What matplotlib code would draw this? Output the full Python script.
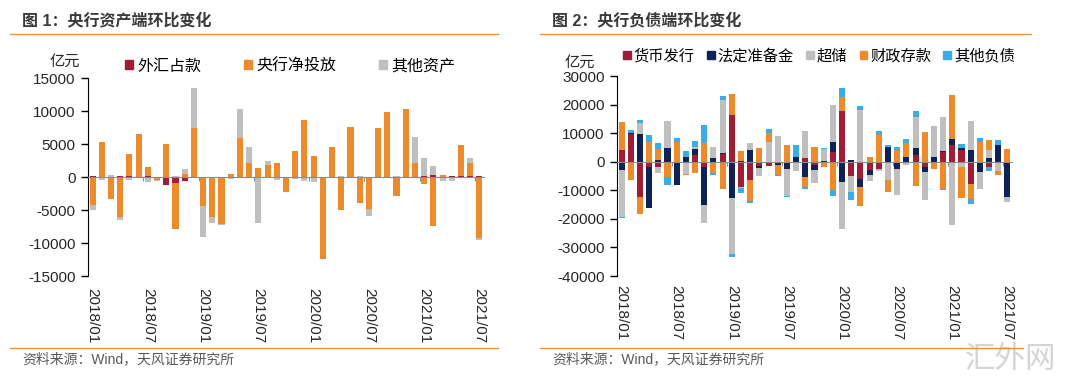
import numpy as np
import matplotlib
matplotlib.use('Agg')
import matplotlib.pyplot as plt
from matplotlib.patches import Patch
from matplotlib.transforms import blended_transform_factory

plt.rcParams['font.family'] = ['Liberation Sans', 'Noto Sans CJK SC']
plt.rcParams['axes.unicode_minus'] = False

###############################################################################
# data (亿元, month-on-month change), 2018/01 .. 2021/07

months = [f'{y}/{m:02d}' for y in range(2018, 2022) for m in range(1, 13)][:43]
tick_labels = ['2018/01', '2018/07', '2019/01', '2019/07',
               '2020/01', '2020/07', '2021/01', '2021/07']

# fig 1: assets
fx_assets = [150, 0, 0, 150, 200, 0, 150, 0, -1200, -900, -550, 0, 0, 0, 0,
             0, 0, 0, 0, 0, 0, 0, 0, 0, 0, 0, 0, 0, 0, 0, 0, 0, 0, 0, 0,
             -200, 100, 300, 0, 150, 150, 150, 150]
net_injection = [-4200, 5300, -3300, -6100, 3300, 6500, 1300, -400, 5000, -7000,
                 500, 7500, -4400, -6050, -7150, 500, 5850, 2100, 1400, 1750,
                 2100, -2250, 3900, 8600, 3200, -12400, 4550, -5050, 7550, -3950,
                 -4900, 7350, 9850, -2900, 10250, 2100, -1100, -7400, 350, 0,
                 4650, 1900, -9250]
other_assets = [-850, -450, 300, -400, -500, 0, -800, -200, 0, 200, 700, 5950,
                -4750, -900, -150, -300, 4500, 2500, -6950, 750, -400, 0, -350,
                -650, -750, 0, 0, 150, 0, 150, -950, 0, -150, 150, 0, 3900,
                2750, 1350, -550, -650, 0, 850, -300]

# fig 2: liabilities
currency = [4100, 9800, -12300, -1800, -2000, 0, 0, 0, 2500, -1800, 0, 2800,
            16500, -8800, -6500, -1400, -1500, 0, 0, 0, 1300, -1200, 0, 3300,
            17900, -4900, -6100, -2900, -2600, 0, 0, 0, 2500, -2000, 0, 3300,
            6000, 4100, -7800, 0, -2000, 0, 0]
required_res = [-2900, 200, 9800, -14300, 700, 4800, -8200, 1800, 2000, -13400,
                1300, 400, -12600, 400, 4200, -800, 0, -1000, -2600, 1700,
                -5500, -1800, 400, 3500, -7000, 500, -2900, -1800, 0, 5000,
                -2600, 1500, 2300, -1500, 1700, 600, 1800, 600, 4200, -3500,
                1300, 6000, -12500]
excess_res = [-16300, 0, 3800, 0, -1800, 9400, 0, -4300, 800, -6100, 4000,
              18300, -19800, -500, 2200, -2900, 6800, 9100, -9400, -3400, 9600,
              -4500, 4100, 12900, -16400, -5800, 18100, -2000, -800, -6400,
              -9000, -1200, 11000, -9900, 10900, 11700, -22100, -1800, 9900,
              -5900, 2900, -3200, -1700]
fiscal_dep = [9800, -6500, -5900, 6800, 3800, -5500, 6800, -200, -4100, 6700,
              -4100, -9600, 7200, 3200, -7300, 4700, 3200, -3500, 5900, 0,
              -3300, 5000, -2000, -9900, 4900, 0, -6400, 1500, 9700, -4100,
              4100, 5000, -8400, 10300, -2600, -9400, 15400, -10800, -5300,
              6800, 3500, -1500, 4500]
other_liab = [-400, 1000, 900, 2600, 2000, -2500, 1500, 1800, 2100, 6200, -600,
              1500, -900, -1500, -800, 0, 1500, -400, -200, 4200, -800, 0, 400,
              -2000, 3000, -2700, 1500, 0, 900, 900, 900, 1400, 1900, 0, 0,
              -600, 0, 1500, -1800, 1500, -1400, 1600, 0]

###############################################################################

W, H = 1076, 381
MAROON = '#A11D36'
ORANGE = '#EC8A2C'
GRAY = '#BFBFBF'
NAVY = '#0E2257'
BLUE = '#3AADE6'
LINE = '#E8953C'
TXT = '#262626'

fig = plt.figure(figsize=(W / 100, H / 100), dpi=100)


def px_axes(x0, x1, ytop, ybot):
    return fig.add_axes([x0 / W, 1 - ybot / H, (x1 - x0) / W, (ybot - ytop) / H])


def stacked(ax, series, colors, width=0.66):
    x = np.arange(len(months))
    pos = np.zeros(len(months))
    neg = np.zeros(len(months))
    for vals, c in zip(series, colors):
        v = np.asarray(vals, dtype=float)
        ax.bar(x, v, width, bottom=np.where(v >= 0, pos, neg), color=c,
               linewidth=0, zorder=2)
        pos += np.where(v > 0, v, 0)
        neg += np.where(v < 0, v, 0)


def style(ax, ylim, step, lab_off):
    ax.set_xlim(-0.5, len(months) - 0.5)
    ax.set_ylim(*ylim)
    ax.set_yticks(np.arange(ylim[0], ylim[1] + 1, step))
    ax.tick_params(axis='y', direction='out', length=5, width=1, color='black',
                   labelsize=11, labelcolor=TXT, pad=4)
    for s in ['top', 'right']:
        ax.spines[s].set_visible(False)
    ax.spines['left'].set_color('black')
    ax.spines['bottom'].set_position(('data', 0))
    ax.spines['bottom'].set_color('#8C8C8C')
    ax.spines['bottom'].set_zorder(3)
    ax.set_xticks(np.arange(5.5, len(months), 6))
    ax.tick_params(axis='x', direction='out', length=3, color='#8C8C8C',
                   labelbottom=False)
    tr = blended_transform_factory(ax.transData, ax.transAxes)
    for lab in tick_labels:
        ax.text(months.index(lab), lab_off, lab, transform=tr, rotation=270,
                ha='center', va='top', fontsize=11, color=TXT)


# ---- panel 1
ax1 = px_axes(88, 484, 78, 276)
stacked(ax1, [fx_assets, net_injection, other_assets], [MAROON, ORANGE, GRAY])
style(ax1, (-15000, 15000), 5000, -0.06)
fig.text(50 / W, 1 - 62 / H, '亿元', fontsize=11, color=TXT, va='center')
ax1.legend(handles=[Patch(color=c, label=l) for c, l in
                    zip([MAROON, ORANGE, GRAY], ['外汇占款', '央行净投放', '其他资产'])],
           loc='center left', bbox_to_anchor=(125 / W, 1 - 66 / H),
           bbox_transform=fig.transFigure, ncol=3, frameon=False, fontsize=11.5,
           handlelength=0.5, handleheight=0.5, handletextpad=0.25,
           columnspacing=2.7, borderpad=0, borderaxespad=0)

# ---- panel 2
ax2 = px_axes(617, 1012, 76, 276)
stacked(ax2, [currency, required_res, excess_res, fiscal_dep, other_liab],
        [MAROON, NAVY, GRAY, ORANGE, BLUE])
style(ax2, (-40000, 30000), 10000, -0.045)
fig.text(565 / W, 1 - 63 / H, '亿元', fontsize=11, color=TXT, va='center')
ax2.legend(handles=[Patch(color=c, label=l) for c, l in
                    zip([MAROON, NAVY, GRAY, ORANGE, BLUE],
                        ['货币发行', '法定准备金', '超储', '财政存款', '其他负债'])],
           loc='center left', bbox_to_anchor=(623 / W, 1 - 56 / H),
           bbox_transform=fig.transFigure, ncol=5, frameon=False, fontsize=11,
           handlelength=0.5, handleheight=0.5, handletextpad=0.2,
           columnspacing=0.8, borderpad=0, borderaxespad=0)

# ---- titles, rules, source
for x0, x1, title in [(10, 498, '图 1：央行资产端环比变化'),
                      (540, 1031, '图 2：央行负债端环比变化')]:
    fig.text((x0 + 12) / W, 1 - 20 / H, title, fontsize=11.5, fontweight='bold',
             color='#3A3A3A', va='center')
    fig.add_artist(plt.Line2D([x0 / W, x1 / W], [1 - 34 / H] * 2, color=LINE, lw=1))
for x0, x1 in [(10, 498), (540, 1023)]:
    fig.add_artist(plt.Line2D([x0 / W, x1 / W], [1 - 347.5 / H] * 2, color=LINE, lw=1))
    fig.text((x0 + 12) / W, 1 - 359 / H, '资料来源：Wind，天风证券研究所',
             fontsize=10, color='#595959', va='center')

# watermark
fig.text(1010 / W, 1 - 360 / H, '汇外网', fontsize=22, color='#D4D4D4',
         ha='center', va='center', zorder=0)

fig.savefig('out.png', dpi=100)
